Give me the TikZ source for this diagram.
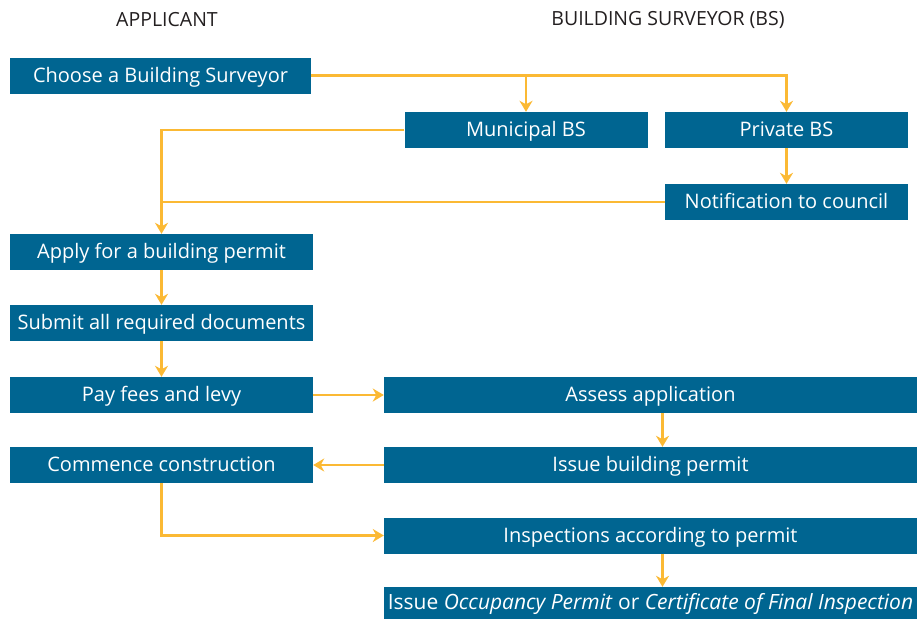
\documentclass[tikz,border=0pt]{standalone}
\usepackage{fontspec}
\setmainfont{Open Sans}
\usetikzlibrary{arrows.meta}
\definecolor{bsblue}{HTML}{006591}
\definecolor{flowyellow}{HTML}{FBB934}
\definecolor{headgray}{HTML}{231F20}

\begin{document}
\begin{tikzpicture}[x=1pt,y=-1pt,
    box/.style={fill=bsblue,text=white,inner sep=0pt,minimum height=36pt,text height=16pt,text depth=2.5pt,font=\fontsize{20}{24}\selectfont},
    leftbox/.style={box,minimum width=303pt},
    smallbox/.style={box,minimum width=243pt},
    rightbox/.style={box,minimum width=533pt},
    head/.style={text=headgray,font=\fontsize{19.5}{23}\selectfont},
    link/.style={flowyellow,line width=2.6pt},
    flow/.style={link,-{Stealth[length=11pt,width=13pt,inset=3.5pt]}}]
    \useasboundingbox (0,0) rectangle (917,619);

    \node[head](applicant) at (167,20) {APPLICANT};
    \node[head](surveyor) at (668,20) {BUILDING SURVEYOR (BS)};

    \node[box,minimum width=301pt](choose) at (160.5,75.5) {Choose a Building Surveyor};
    \node[smallbox](municipal) at (526,130) {Municipal BS};
    \node[smallbox](private) at (786.5,130) {Private BS};
    \node[smallbox](notify) at (786.5,202) {Notification to council};

    \node[leftbox](apply) at (161.5,252) {Apply for a building permit};
    \node[leftbox](submit) at (161.5,323) {Submit all required documents};
    \node[leftbox](pay) at (161.5,395) {Pay fees and levy};
    \node[leftbox](commence) at (161.5,465) {Commence construction};

    \node[rightbox](assess) at (650.5,395) {Assess application};
    \node[rightbox](permit) at (650.5,465) {Issue building permit};
    \node[rightbox](inspect) at (650.5,535.5) {Inspections according to permit};
    \node[rightbox,minimum height=32pt,font=\fontsize{21}{24}\selectfont](final) at (650.5,603) {Issue \textit{Occupancy Permit} or \textit{Certificate of Final Inspection}};

    \draw[flow](choose.east) -| (private.north);
    \draw[flow](choose.east -| municipal.north) -- (municipal.north);
    \draw[flow](private) -- (notify);
    \draw[flow](municipal.west) -| (apply.north);
    \draw[link](notify.west) -- (notify.west -| apply.north);

    \draw[flow](apply) -- (submit);
    \draw[flow](submit) -- (pay);
    \draw[flow](pay) -- (assess);
    \draw[flow]([xshift=12pt]assess.south) -- ([xshift=12pt]permit.north);
    \draw[flow](permit) -- (commence);
    \draw[flow](commence.south) |- (inspect.west);
    \draw[flow]([xshift=12pt]inspect.south) -- ([xshift=12pt]final.north);
\end{tikzpicture}
\end{document}
